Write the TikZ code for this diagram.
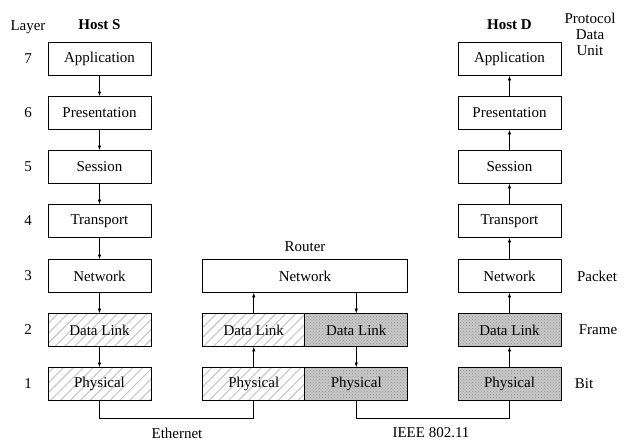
\documentclass[tikz,border=0pt]{standalone}
\usepackage{fontspec}
\setmainfont{Liberation Serif}
\usetikzlibrary{arrows.meta,patterns,patterns.meta}
\begin{document}
\begin{tikzpicture}[x=1pt,y=-1pt,
  every node/.style={font=\fontsize{15}{16}\selectfont},
  layerbox/.style={draw, line width=0.8pt, minimum width=103pt, minimum height=33pt, inner sep=0pt},
  widebox/.style={layerbox, minimum width=205pt},
  ethbox/.style={layerbox, preaction={pattern={Lines[angle=45,distance=7pt,line width=1.1pt]}, pattern color=black!22}},
  wifibox/.style={layerbox, preaction={fill=black!22}, preaction={pattern=crosshatch dots, pattern color=black!40}},
  lbl/.style={inner sep=0pt},
  flow/.style={line width=0.7pt, -{Latex[length=4.5pt,width=3.5pt]}},
  wire/.style={line width=0.8pt}]
\useasboundingbox (0,0) rectangle (625,441);

% layer numbers and column headings
\node[lbl] (layerhd) at (28,27) {Layer};
\node[lbl] (hostS) at (99.5,25) {\bfseries Host S};
\node[lbl] (hostD) at (509.5,25) {\bfseries Host D};
\node[lbl, align=center, font=\fontsize{15}{16}\selectfont] (pdu) at (590,34) {Protocol\\Data\\Unit};
\foreach \n/\y in {7/59, 6/113, 5/167, 4/221, 3/276, 2/330, 1/384}
  \node[lbl] (num\n) at (28,\y) {\n};

% host S
\node[layerbox] (sApp) at (99.5,59) {Application};
\node[layerbox] (sPre) at (99.5,113) {Presentation};
\node[layerbox] (sSes) at (99.5,167) {Session};
\node[layerbox] (sTra) at (99.5,221) {Transport};
\node[layerbox] (sNet) at (99.5,276) {Network};
\node[ethbox]   (sDL)  at (99.5,330) {Data Link};
\node[ethbox]   (sPhy) at (99.5,384) {Physical};

% router
\node[lbl] (router) at (305,247) {Router};
\node[widebox]  (rNet) at (305,276) {Network};
\node[ethbox]   (rDLa) at (253.75,330) {Data Link};
\node[wifibox]  (rDLb) at (356.25,330) {Data Link};
\node[ethbox]   (rPha) at (253.75,384) {Physical};
\node[wifibox]  (rPhb) at (356.25,384) {Physical};

% host D
\node[layerbox] (dApp) at (509.5,59) {Application};
\node[layerbox] (dPre) at (509.5,113) {Presentation};
\node[layerbox] (dSes) at (509.5,167) {Session};
\node[layerbox] (dTra) at (509.5,221) {Transport};
\node[layerbox] (dNet) at (509.5,276) {Network};
\node[wifibox]  (dDL)  at (509.5,330) {Data Link};
\node[wifibox]  (dPhy) at (509.5,384) {Physical};

% protocol data units
\node[lbl] (packet) at (597,276) {Packet};
\node[lbl] (frame) at (598,330) {Frame};
\node[lbl] (bit) at (584,384) {Bit};

% data flow down host S
\draw[flow] (sApp) -- (sPre);
\draw[flow] (sPre) -- (sSes);
\draw[flow] (sSes) -- (sTra);
\draw[flow] (sTra) -- (sNet);
\draw[flow] (sNet) -- (sDL);
\draw[flow] (sDL) -- (sPhy);

% through the router
\draw[flow] (rPha) -- (rDLa);
\draw[flow] (rDLa.north) -- (rDLa.north |- rNet.south);
\draw[flow] (rDLb.north |- rNet.south) -- (rDLb.north);
\draw[flow] (rDLb) -- (rPhb);

% up host D
\draw[flow] (dPhy) -- (dDL);
\draw[flow] (dDL) -- (dNet);
\draw[flow] (dNet) -- (dTra);
\draw[flow] (dTra) -- (dSes);
\draw[flow] (dSes) -- (dPre);
\draw[flow] (dPre) -- (dApp);

% physical links
\coordinate (ethL) at (99.5,418);
\coordinate (ethR) at (253.75,418);
\coordinate (wifL) at (356.25,418);
\coordinate (wifR) at (509.5,418);
\draw[wire] (sPhy.south) -- (ethL) -- (ethR) -- (rPha.south);
\draw[wire] (rPhb.south) -- (wifL) -- (wifR) -- (dPhy.south);
\node[lbl] (eth) at (177,433) {Ethernet};
\node[lbl] (wifi) at (431,433) {IEEE 802.11};
\end{tikzpicture}
\end{document}
